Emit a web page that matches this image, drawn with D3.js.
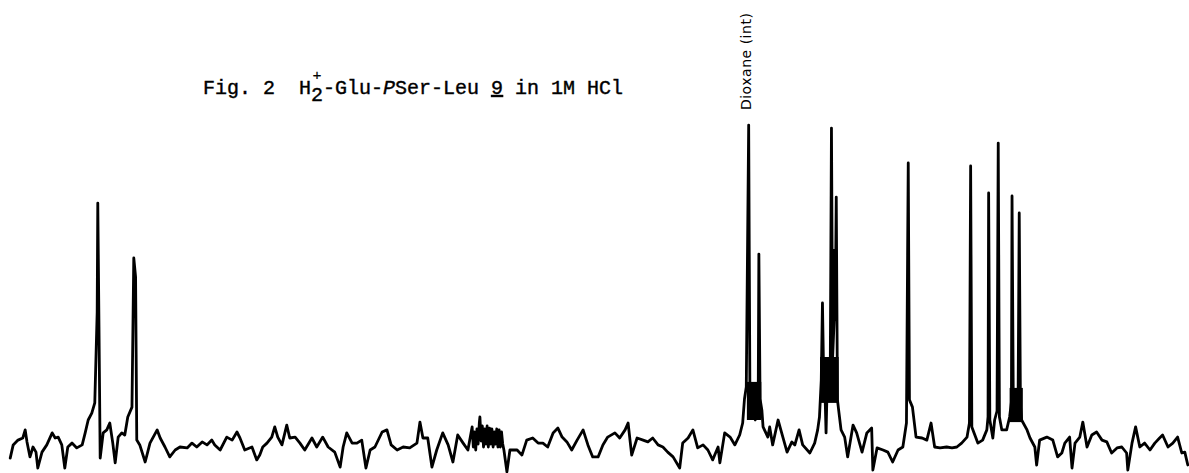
<!DOCTYPE html>
<html>
<head>
<meta charset="utf-8">
<title>Fig. 2</title>
<script src="https://cdn.jsdelivr.net/npm/d3@7"></script>
<style>
	body{margin:0;background:#fff;}
	.trace{fill:none;stroke:#000;stroke-width:2.8;stroke-linejoin:round;stroke-linecap:round;}
	.dense{fill:#000;}
	.title{font-family:"Liberation Mono",monospace;font-size:20px;fill:#000;stroke:#000;stroke-width:0.4;white-space:pre;}
	.ref{font-family:"DejaVu Sans",sans-serif;font-size:14px;fill:#000;}
</style>
</head>
<body>
<script>
// spectrum trace: [shift in ppm, intensity]
var spectrum = [
	[190.5,-3.7],[190.0,0.7],[189.2,2.3],[188.4,3],[188.0,5.7],[187.7,1.7],[187.2,-3.3],[186.7,0],[186.2,-1.7],[185.9,-7],
	[185.2,-1.7],[184.4,0.7],[183.5,4.7],[183.0,3],[182.5,3.3],[181.9,0.7],[181.4,-7],[180.9,0],[180.2,1.3],[179.4,-0.3],
	[178.5,0.7],[178.0,4.7],[177.5,9],[176.9,11.3],[176.4,14.7],[176.0,45],[175.9,81.3],[175.7,40],[175.5,-3.7],[175.0,4.7],
	[174.4,5.7],[173.9,8],[173.4,1.3],[173.0,-5.3],[172.5,3.3],[171.9,4.7],[171.4,4],[170.9,10],[170.2,13.3],[169.9,63],
	[169.6,56.7],[169.4,2.3],[168.9,0.7],[168.0,-5],[167.2,1.3],[166.0,5.7],[165.5,3],[164.7,0],[163.9,-3.3],[163.0,-1],
	[162.2,0],[161.0,-0.3],[160.2,1.3],[159.4,0],[158.5,1.7],[157.7,0.7],[156.9,2.3],[156.4,0.7],[155.5,-1],[154.4,3.3],
	[153.5,2.3],[152.7,5],[152.2,3],[151.4,-1],[150.2,0],[149.4,-4.3],[148.9,-2.7],[148.4,0],[147.7,1.3],[146.9,3.3],
	[146.4,6.7],[145.9,3.3],[145.2,0.7],[144.4,7.3],[143.9,3],[143.0,3.3],[142.2,1.3],[141.4,-1],[140.2,3],[139.4,0],
	[138.4,3.3],[137.5,0],[136.4,-1.7],[135.5,-6.7],[135.0,0],[134.4,4.7],[133.5,1.3],[132.7,1.3],[131.9,2.3],[131.2,-7],
	[130.5,-1],[129.7,0],[128.5,5],[127.7,5.7],[127.0,0.7],[126.0,-1],[125.0,0],[123.9,-0.3],[122.7,1.3],[122.2,8.3],
	[121.7,3],[120.9,3],[120.2,-6.7],[119.4,-1],[118.4,4.7],[117.5,0.7],[116.7,-5],[115.9,4],[115.0,1.3],[114.2,-1],
	[113.5,6.7],[113.3,0],[113.1,5],[112.9,-1],[112.7,6],[112.5,1],[112.3,8],[112.2,10],[112.0,2],[111.8,7],
	[111.6,0],[111.4,6],[111.2,1],[111.0,7],[110.8,0],[110.6,6.3],[110.4,1],[110.2,6],[110.0,0],[109.8,5],
	[109.6,1],[109.4,6],[109.2,0],[109.0,5.7],[108.8,0],[108.6,5],[108.4,1],[108.2,-1],[107.7,-8.3],[107.2,-1],
	[106.0,-1],[105.2,-2.7],[104.4,2.3],[103.4,3],[102.5,1.3],[101.7,1.3],[100.9,0],[100.0,4.7],[99.2,6.3],[98.5,3.3],
	[97.7,1.7],[96.9,-1],[96.0,2.3],[95.0,5.7],[94.2,0.7],[93.4,-3.3],[92.5,-3.3],[91.7,0.7],[90.9,3.3],[89.7,4.7],
	[88.9,3],[88.0,5.7],[87.5,8],[86.9,-2.7],[86.0,3],[85.0,2.3],[84.2,1.7],[83.4,3],[82.5,0.7],[81.7,0],
	[80.9,-1.7],[80.0,-3.3],[78.9,-7],[78.4,1.3],[77.5,3],[76.7,5.7],[75.9,-0.3],[75.0,0.7],[74.2,-1],[73.4,-4.3],
	[72.5,0],[72.2,-5.3],[71.4,4.7],[70.5,3.3],[69.7,0.7],[68.9,4],[68.4,8],[68.1,16],[67.8,20],[67.4,107.3],
	[67.2,20],[66.9,10],[66.6,12],[66.3,9],[66.0,16],[65.8,20],[65.7,64.3],[65.5,16],[65.2,12.3],[65.0,6.7],
	[64.2,3.3],[63.9,6.7],[63.4,0.7],[62.5,9],[61.9,4.7],[61.0,-1.7],[60.2,1.7],[59.7,0.7],[59.0,5.7],[58.4,0.7],
	[57.2,-2],[56.4,1.3],[55.9,5.7],[55.6,10],[55.3,22.3],[55.1,48],[54.9,23.3],[54.7,20],[54.5,4.7],[54.3,22.3],
	[53.8,25.7],[53.6,106.3],[53.4,30],[53.1,45],[52.9,60],[52.8,83.3],[52.6,15.7],[52.4,12.3],[52.0,5.7],[51.4,3.3],
	[50.9,-3.3],[50.0,7.3],[49.4,4.7],[48.5,-1.7],[47.7,4.7],[46.9,6.3],[46.7,-7.7],[46.0,-0.3],[45.0,-1],[44.2,-1.7],
	[43.4,-5],[42.5,-1],[41.7,0],[41.1,8],[40.8,94.7],[40.6,15.7],[40.1,13.3],[39.5,3.3],[38.5,3],[37.7,2.3],
	[37.0,8],[36.4,0],[35.5,-0.3],[34.4,0],[33.5,-0.3],[32.7,0],[31.9,1.3],[31.0,3.3],[30.6,8],[30.4,93.7],
	[30.2,6.7],[29.7,4],[29.2,1.3],[28.4,2.3],[27.7,5.7],[27.5,10],[27.4,84.7],[27.2,9],[26.7,3],[26.4,9],
	[26.0,12],[25.8,101.3],[25.6,10],[25.2,5.7],[24.4,5.7],[23.9,10],[23.6,15],[23.5,83.7],[23.3,18],[22.9,12],
	[22.5,12.3],[22.3,78],[22.1,14],[21.9,9],[21.0,5.7],[20.5,3],[19.7,0],[19.4,-6],[18.9,2.3],[17.7,3.3],
	[16.7,2.3],[15.9,-3.3],[15.2,-2],[14.7,1.3],[13.9,3.3],[13.5,-7],[13.0,1.3],[12.2,3.3],[11.7,8.3],[11.0,0],
	[10.2,4],[9.4,5],[8.5,2.3],[7.7,1.7],[6.9,-2],[6.0,-0.3],[5.2,0],[4.4,-2],[4.2,-7.7],[3.5,1.3],
	[2.9,6.7],[2.2,0],[1.4,1.3],[0.5,-1],[-0.3,1.3],[-1.1,3],[-1.6,4],[-2.5,0],[-3.3,1.3],[-4.1,3.3],
	[-4.8,-2],[-5.3,-1.7],[-5.8,-6]
];
// unresolved (blacked out) parts of the trace: [from ppm, to ppm, low, high]
var dense = [
	[67.7,65.3,9,21.7],
	[55.5,52.4,14.7,30],
	[53.6,52.7,42,66],
	[23.9,21.7,8.3,19.7]
];
var refShift = 67.4, refHeight = 107.3;
var refLabel = "Dioxane (int)";

var width = 1189, height = 473;
var svg = d3.select("body").append("svg")
	.attr("width", width)
	.attr("height", height);

var xScale = d3.scaleLinear().domain([192.2, -6.0]).range([0, width]);
var yScale = d3.scaleLinear().domain([0, 110]).range([447, 117]);

svg.selectAll("rect.dense")
	.data(dense)
	.enter().append("rect")
	.attr("class", "dense")
	.attr("x", function(d){ return xScale(d[0]); })
	.attr("width", function(d){ return xScale(d[1]) - xScale(d[0]); })
	.attr("y", function(d){ return yScale(d[3]); })
	.attr("height", function(d){ return yScale(d[2]) - yScale(d[3]); });

var line = d3.line()
	.x(function(d){ return xScale(d[0]); })
	.y(function(d){ return yScale(d[1]); });

svg.append("path")
	.datum(spectrum)
	.attr("class", "trace")
	.attr("d", line);

// reference label, handwritten on the chart above the dioxane line
var rx = xScale(refShift) + 2, ry = yScale(refHeight) - 15;
svg.append("text")
	.attr("class", "ref")
	.attr("transform", "translate(" + rx + "," + ry + ") rotate(-90)")
	.attr("textLength", 97)
	.attr("lengthAdjust", "spacing")
	.text(refLabel);

// typed caption, 12px pitch; the charge and the subscript share one cell
var t = svg.append("text").attr("class", "title").attr("y", 94);
t.append("tspan").attr("x", 203).text("Fig. 2  H");
t.append("tspan").attr("x", 317).attr("dy", -14).attr("text-anchor", "middle")
	.style("font-size", "15px").style("stroke-width", 0.2).text("+");
t.append("tspan").attr("x", 311).attr("dy", 21).text("2");
t.append("tspan").attr("x", 323).attr("dy", -7).text("-Glu-");
t.append("tspan").style("font-style", "italic").text("P");
t.append("tspan").text("Ser-Leu ");
t.append("tspan").style("text-decoration", "underline").text("9");
t.append("tspan").text(" in 1M HCl");
</script>
</body>
</html>
